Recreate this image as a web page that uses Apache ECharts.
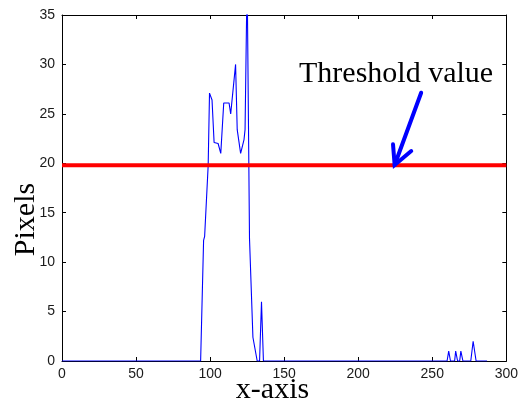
<!DOCTYPE html>
<html><head><meta charset="utf-8">
<script src="https://cdn.jsdelivr.net/npm/echarts@6/dist/echarts.min.js"></script>
<style>html,body{margin:0;padding:0;background:#fff}#c{width:521px;height:405px}</style>
</head><body><div id="c"></div>
<script>
// ---- data ----
const xPositions = [0, 93.6, 95.6, 96.3, 98.7, 99.6, 100.6, 101.3, 102.7, 105.4, 107.2, 109.2, 112.8, 113.9, 117.2, 118.3, 120.6, 121.6, 122.9, 123.6, 125.0, 126.6, 128.9, 131.8, 133.4, 134.7, 136.0, 260.0, 261.1, 262.3, 265.1, 265.8, 266.4, 267.1, 268.5, 269.3, 270.0, 270.7, 276.0, 277.6, 278.7, 279.6, 287.0];
const pixelValues = [0, 0, 12.2, 12.6, 19.8, 27.1, 27.1, 26.4, 22.1, 22.0, 21.0, 26.1, 26.1, 25.0, 30.0, 23.4, 21.0, 21.0, 22.4, 23.4, 39.0, 12.4, 2.4, 0, 0, 6.0, 0, 0, 1, 0, 0, 1, 1, 0, 0, 1, 1, 0, 0, 2, 2, 0, 0];
const thresholdX = [0, 300];
const thresholdY = [19.8, 19.8];
const arrowShaftX = [242.5, 224.6];
const arrowShaftY = [27.14, 19.83];
const arrowHeadX = [223.5, 224.6, 235.8];
const arrowHeadY = [21.92, 19.83, 21.24];
const xTickValues = [0, 50, 100, 150, 200, 250, 300];
const yTickValues = [0, 5, 10, 15, 20, 25, 30, 35];
const annotationText = 'Threshold value';
const xTitle = 'x-axis';
const yTitle = 'Pixels';

// ---- chart ----
const pairs = (xs, ys) => xs.map((x, i) => [x, ys[i]]);
const chart = echarts.init(document.getElementById('c'), null, {renderer: 'canvas'});
const axisLine = {show: true, onZero: false, lineStyle: {color: '#000', width: 1}};
const tickStyle = {show: true, inside: true, length: 4, lineStyle: {color: '#000', width: 1}};
const labelFont = {fontFamily: 'Liberation Sans, Arial, sans-serif', fontSize: 14, color: '#1a1a1a'};
const xMin = xTickValues[0], xMax = xTickValues[xTickValues.length - 1];
const yMin = yTickValues[0], yMax = yTickValues[yTickValues.length - 1];
const xInt = xTickValues[1] - xTickValues[0], yInt = yTickValues[1] - yTickValues[0];

chart.setOption({
  animation: false,
  backgroundColor: '#fff',
  grid: {left: 62, right: 12, top: 15, bottom: 44, containLabel: false},
  xAxis: [
    {type: 'value', min: xMin, max: xMax, interval: xInt, position: 'bottom',
     axisLine, axisTick: tickStyle, splitLine: {show: false},
     axisLabel: Object.assign({margin: 6}, labelFont)},
    {type: 'value', min: xMin, max: xMax, interval: xInt, position: 'top',
     axisLine, axisTick: tickStyle, splitLine: {show: false}, axisLabel: {show: false}}
  ],
  yAxis: [
    {type: 'value', min: yMin, max: yMax, interval: yInt, position: 'left',
     axisLine, axisTick: tickStyle, splitLine: {show: false},
     axisLabel: Object.assign({margin: 7}, labelFont)},
    {type: 'value', min: yMin, max: yMax, interval: yInt, position: 'right',
     axisLine, axisTick: tickStyle, splitLine: {show: false}, axisLabel: {show: false}}
  ],
  series: [
    {type: 'line', data: pairs(xPositions, pixelValues), showSymbol: false, symbol: 'none',
     lineStyle: {color: '#0000ff', width: 1.1}, clip: true, z: 2},
    {type: 'line', data: pairs(thresholdX, thresholdY), showSymbol: false, symbol: 'none',
     lineStyle: {color: '#ff0000', width: 4}, z: 3},
    {type: 'line', data: pairs(arrowShaftX, arrowShaftY), showSymbol: false, symbol: 'none',
     lineStyle: {color: '#0000ff', width: 4, cap: 'round'}, z: 4},
    {type: 'line', data: pairs(arrowHeadX, arrowHeadY), showSymbol: false, symbol: 'none',
     lineStyle: {color: '#0000ff', width: 4, cap: 'round', join: 'miter'}, z: 4}
  ],
  graphic: [
    {type: 'text', x: 299, y: 74, style: {text: annotationText, fill: '#000',
      font: '30px "Liberation Serif", "Times New Roman", serif', align: 'left', verticalAlign: 'middle'}},
    {type: 'text', x: 272.5, y: 390, style: {text: xTitle, fill: '#000',
      font: '30px "Liberation Serif", "Times New Roman", serif', align: 'center', verticalAlign: 'middle'}},
    {type: 'text', x: 26.5, y: 219.5, rotation: Math.PI / 2, style: {text: yTitle, fill: '#000',
      font: '30px "Liberation Serif", "Times New Roman", serif', align: 'center', verticalAlign: 'middle'}}
  ]
});
</script></body></html>
